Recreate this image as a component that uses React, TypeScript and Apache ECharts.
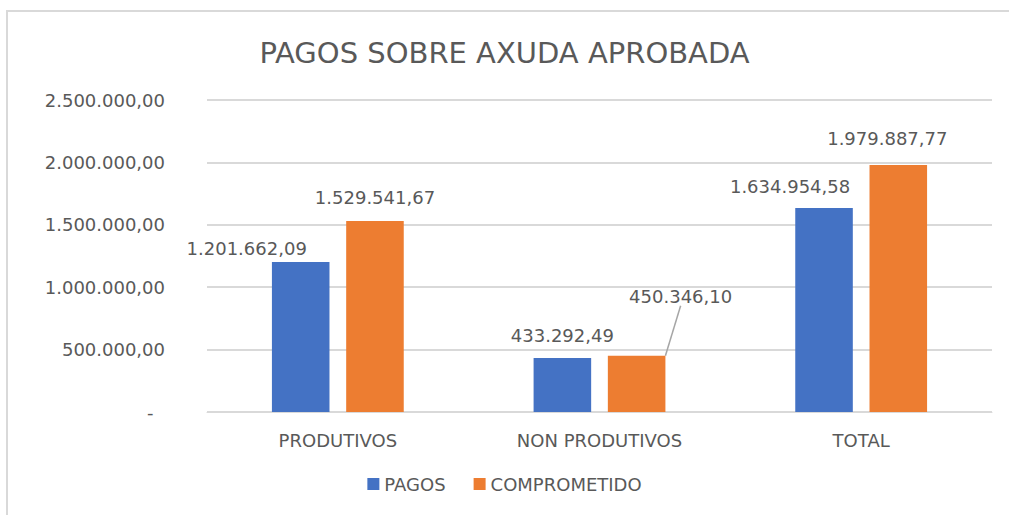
import React, { useEffect, useRef } from "react";
import * as echarts from "echarts";

const categories = ["PRODUTIVOS", "NON PRODUTIVOS", "TOTAL"];
const seriesNames = ["PAGOS", "COMPROMETIDO"];
const pagos = [1201662.09, 433292.49, 1634954.58];
const comprometido = [1529541.67, 450346.1, 1979887.77];
const yTicks = [0, 500000, 1000000, 1500000, 2000000, 2500000];

// label nudges (dx, dy) as in the reference
const pagosShift = [[-54, 0], [0, -8], [-34, -7]];
const compShift = [[0, -10], [44, -45], [-11, -12]];

const TEXT = "#595959";
const FONT = "DejaVu Sans";

function fmt(v: number): string {
  const [i, d] = v.toFixed(2).split(".");
  return i.replace(/\B(?=(\d{3})+(?!\d))/g, ".") + "," + d;
}

export default function App() {
  const ref = useRef<HTMLDivElement>(null);
  useEffect(() => {
    if (!ref.current) return;
    const chart = echarts.init(ref.current, null, { renderer: "svg" });
    const labelCommon = {
      show: true,
      position: "top",
      distance: 5,
      color: TEXT,
      fontFamily: FONT,
      fontSize: 18,
      formatter: (p: any) => fmt(p.value),
    };
    chart.setOption({
      animation: false,
      backgroundColor: "#ffffff",
      textStyle: { fontFamily: FONT },
      title: {
        text: "PAGOS SOBRE AXUDA APROBADA",
        left: "center",
        top: 33,
        textStyle: { color: TEXT, fontFamily: FONT, fontSize: 29, fontWeight: "normal" },
      },
      graphic: [
        { type: "line", shape: { x1: 6, y1: 11, x2: 1009, y2: 11 }, style: { stroke: "#d9d9d9", lineWidth: 2 } },
        { type: "line", shape: { x1: 7, y1: 11, x2: 7, y2: 515 }, style: { stroke: "#d9d9d9", lineWidth: 2 } },
      ],
      legend: {
        bottom: 17,
        left: "center",
        itemWidth: 12,
        itemHeight: 12,
        itemGap: 28,
        icon: "rect",
        textStyle: { color: TEXT, fontFamily: FONT, fontSize: 18 },
        data: seriesNames,
      },
      grid: { left: 207, right: 17, top: 100, bottom: 103 },
      xAxis: {
        type: "category",
        data: categories,
        axisLine: { show: true, lineStyle: { color: "#d9d9d9", width: 1 } },
        axisTick: { show: false },
        axisLabel: { color: TEXT, fontFamily: FONT, fontSize: 18, margin: 19 },
      },
      yAxis: {
        type: "value",
        min: yTicks[0],
        max: yTicks[yTicks.length - 1],
        interval: yTicks[1] - yTicks[0],
        axisLine: { show: false },
        axisTick: { show: false },
        splitLine: { lineStyle: { color: "#d9d9d9", width: 2 } },
        axisLabel: {
          color: TEXT,
          fontFamily: FONT,
          fontSize: 18,
          margin: 42,
          formatter: (v: number) => (v === 0 ? "-  " : fmt(v)),
        },
      },
      series: [
        {
          name: seriesNames[0],
          type: "bar",
          data: pagos,
          barWidth: "22%",
          barGap: "29%",
          itemStyle: { color: "#4472C4" },
          label: labelCommon,
          labelLayout: (p: any) => ({ dx: pagosShift[p.dataIndex][0], dy: pagosShift[p.dataIndex][1] }),
        },
        {
          name: seriesNames[1],
          type: "bar",
          data: comprometido.map((v, i) =>
            i === 1 ? { value: v, labelLine: { show: true, lineStyle: { color: "#a6a6a6", width: 1.5 } } } : v
          ),
          barWidth: "22%",
          barGap: "29%",
          itemStyle: { color: "#ED7D31" },
          label: labelCommon,
          labelLine: { show: false, smooth: false, length2: 0 },
          labelLayout: (p: any) => ({ dx: compShift[p.dataIndex][0], dy: compShift[p.dataIndex][1] }),
        },
      ],
    });
    return () => chart.dispose();
  }, []);
  return (
    <div
      ref={ref}
      style={{ position: "fixed", left: 0, top: 0, width: 1009, height: 515, background: "#fff" }}
    />
  );
}
